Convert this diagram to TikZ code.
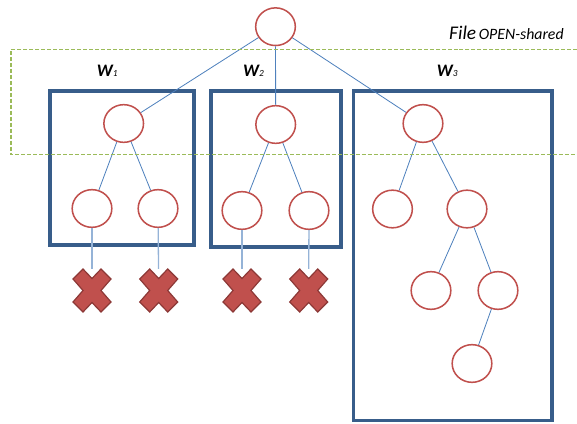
\documentclass[tikz,border=0pt]{standalone}
\usepackage{fontspec}
\setmainfont{Carlito}
\usetikzlibrary{shapes.geometric}
\definecolor{nodered}{HTML}{C0504D}
\definecolor{boxblue}{HTML}{385D8A}
\definecolor{linkblue}{HTML}{4F81BD}
\definecolor{stubblue}{HTML}{95B3D7}
\definecolor{crossedge}{HTML}{8C3836}
\definecolor{sharegreen}{HTML}{9BBB59}
\tikzset{vertex/.style = {shape=ellipse,draw=nodered,line width=1.3pt,minimum width=1.19cm,minimum height=1.13cm,inner sep=0pt}}
\tikzset{link/.style = {draw=linkblue,line width=0.7pt}}
\tikzset{stub/.style = {draw=stubblue,line width=1.1pt}}
\tikzset{worker/.style = {draw=boxblue,line width=3.4pt}}
\tikzset{dead/.style = {shape=rectangle,minimum width=1.14cm,minimum height=1.29cm,inner sep=0pt}}
\tikzset{deadmark/.style = {fill=nodered,draw=crossedge,line width=1pt}}
\tikzset{wlabel/.style = {anchor=base west,inner sep=0pt,font=\fontsize{15}{18}\selectfont\bfseries\itshape}}
\tikzset{shared/.style = {draw=sharegreen,line width=1pt,dash pattern=on 3.4pt off 1.7pt}}

\begin{document}
\begin{tikzpicture}[x=0.03cm,y=-0.03cm]
                \useasboundingbox (0,0) rectangle (577,424);
                % worker boxes
                \draw[worker] (50,90.7) rectangle (193.7,245);
                \draw[worker] (211,91) rectangle (340.7,246.7);
                \draw[worker] (353.5,91) rectangle (552,420.5);
                % tree
                \node[vertex] (root) at (275.5,26.7) {};
                \node[vertex] (a) at (123.7,123.5) {};
                \node[vertex] (a1) at (92,208.5) {};
                \node[vertex] (a2) at (158,208.5) {};
                \node[vertex] (b) at (275.7,124.5) {};
                \node[vertex] (b1) at (242,210.5) {};
                \node[vertex] (b2) at (309,210.5) {};
                \node[vertex] (c) at (423,123.5) {};
                \node[vertex] (c1) at (392.5,209) {};
                \node[vertex] (c2) at (467,209) {};
                \node[vertex] (c21) at (431,290.5) {};
                \node[vertex] (c22) at (498,290.5) {};
                \node[vertex] (c221) at (472,363.5) {};
                \node[dead] (xa1) at (92,290.5) {};
                \node[dead] (xa2) at (158.7,290.5) {};
                \node[dead] (xb1) at (242,290.5) {};
                \node[dead] (xb2) at (308.7,290.5) {};
                % labels
                \node[wlabel] (w1) at (96.7,77) {W{\fontsize{8}{9}\selectfont\mdseries 1}};
                \node[wlabel] (w2) at (243,77) {W{\fontsize{8}{9}\selectfont\mdseries 2}};
                \node[wlabel] (w3) at (436.7,77) {W{\fontsize{8}{9}\selectfont\mdseries 3}};
                \node[anchor=base west,inner sep=0pt,font=\itshape] (file) at (449,40)
                  {{\fontsize{16.5}{19}\selectfont File} {\fontsize{13.5}{16}\selectfont OPEN-shared}};
                % edges
                \draw[link] (root) -- (a);
                \draw[link] (root) -- (b);
                \draw[link] (root) -- (c);
                \draw[link] (a) -- (a1);
                \draw[link] (a) -- (a2);
                \draw[link] (b) -- (b1);
                \draw[link] (b) -- (b2);
                \draw[link] (c) -- (c1);
                \draw[link] (c) -- (c2);
                \draw[link] (c2) -- (c21);
                \draw[link] (c2) -- (c22);
                \draw[link] (c22) -- (c221);
                \draw[stub] (a1) -- (xa1);
                \draw[stub] (a2) -- (xa2);
                \draw[stub] (b1) -- (xb1);
                \draw[stub] (b2) -- (xb2);
                \foreach \x in {xa1,xa2,xb1,xb2}
                  \draw[deadmark,shift={(\x.center)}] (-19,-11.5) -- (-9,-21.5) -- (0,-12) -- (9,-21.5)
                    -- (19,-11.5) -- (9,0) -- (19,11.5) -- (9,21.5) -- (0,12) -- (-9,21.5)
                    -- (-19,11.5) -- (-9,0) -- cycle;
                % shared region
                \draw[shared] (577,49.3) -| (11,154.3) -- (577,154.3);
            \end{tikzpicture}
\end{document}
